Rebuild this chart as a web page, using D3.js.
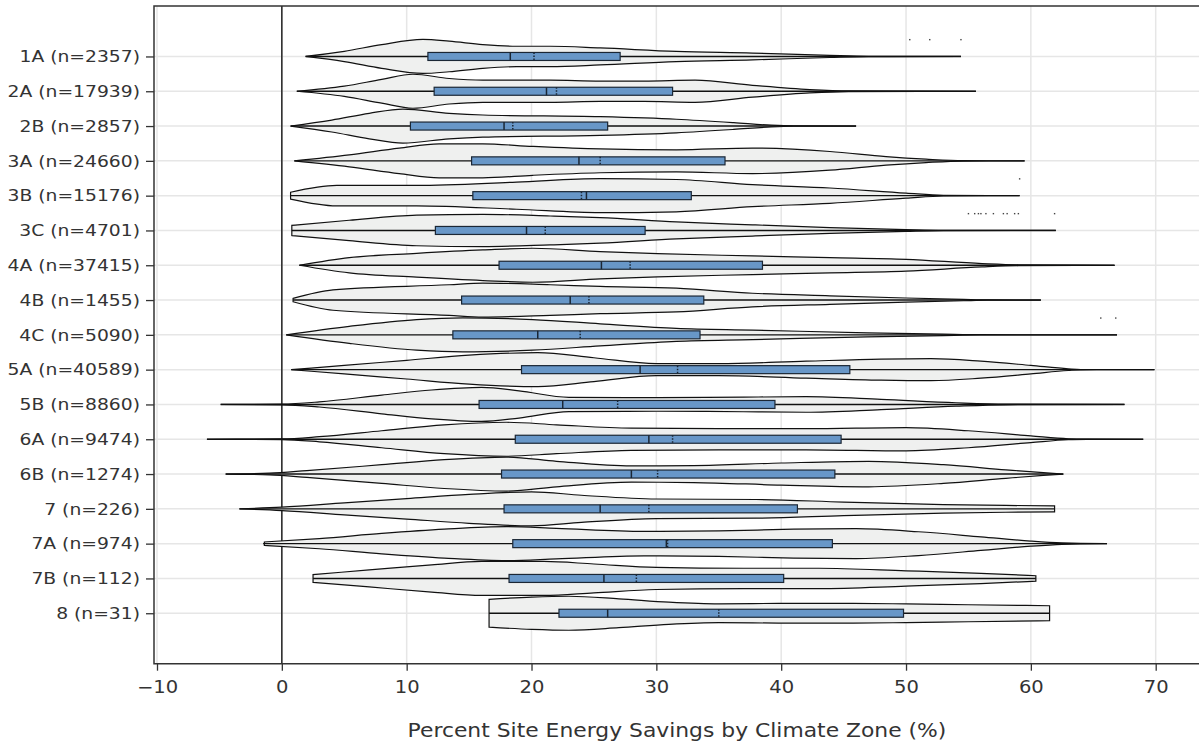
<!DOCTYPE html>
<html>
<head>
<meta charset="utf-8">
<script src="https://cdn.jsdelivr.net/npm/d3@7"></script>
<style>
  body { margin: 0; background: #fff; }
  text { font-family: "DejaVu Sans", Verdana, sans-serif; fill: #333; }
</style>
</head>
<body>
<svg id="vis"></svg>
<script>
const WIDTH = 1199;
const HEIGHT = 744;
const STRETCH = 1.15; // text in the original is a bit wider than DejaVu

// climate zones, top to bottom
const zones = ["1A", "2A", "2B", "3A", "3B", "3C", "4A", "4B", "4C", "5A", "5B", "6A", "6B", "7", "7A", "7B", "8"];
const counts = [2357, 17939, 2857, 24660, 15176, 4701, 37415, 1455, 5090, 40589, 8860, 9474, 1274, 226, 974, 112, 31];

// box stats (percent savings)
const q1 =      [11.7, 12.2, 10.3, 15.2, 15.3, 12.3, 17.4, 14.4, 13.7, 19.2, 15.8, 18.7, 17.6, 17.8, 18.5, 18.2, 22.2];
const medians = [18.3, 21.2, 17.8, 23.8, 24.4, 19.6, 25.6, 23.1, 20.5, 28.7, 22.5, 29.4, 28.0, 25.5, 30.8, 25.8, 26.1];
const means =   [20.2, 22.0, 18.5, 25.5, 24.0, 21.1, 27.9, 24.6, 23.9, 31.7, 26.9, 31.3, 30.1, 29.4, 30.9, 28.4, 35.0];
const q3 =      [27.1, 31.3, 26.1, 35.5, 32.8, 29.1, 38.5, 33.8, 33.5, 45.5, 39.5, 44.8, 44.3, 41.3, 44.1, 40.2, 49.8];
const lowFence =  [1.9, 1.2, 0.7, 1.0, 0.7, 0.8, 1.4, 0.9, 0.35, 0.75, -4.9, -6.0, -4.5, -3.4, -1.5, 2.5, 16.6];
const highFence = [54.4, 55.6, 46.0, 59.5, 59.1, 62.0, 66.7, 60.8, 66.9, 69.9, 67.5, 69.0, 62.6, 61.9, 66.1, 60.4, 61.5];

// violin outlines: [value, relative density]
const densities = [
  [[1.9,0],[5,0.3],[8,0.7],[11.3,1.0],[13.4,0.9],[16.1,0.7],[18.8,0.6],[21.5,0.6],[25.5,0.5],[31.6,0.3],[37.7,0.2],[43.9,0.06],[47,0.01],[54.4,0]],
  [[1.2,0],[5,0.3],[8,0.7],[10.5,1.0],[13.4,0.75],[16.1,0.65],[21.5,0.65],[25.5,0.6],[29,0.6],[33.1,0.65],[37.7,0.35],[42.3,0.1],[45.4,0.02],[55.6,0]],
  [[0.7,0],[4,0.35],[7,0.75],[9.7,1.0],[13.4,0.75],[16.1,0.65],[25.5,0.55],[31.6,0.4],[36.2,0.2],[39.2,0.05],[41,0.01],[46,0]],
  [[1.0,0],[5.4,0.35],[9.4,0.75],[12.6,1.0],[16.1,1.0],[20.1,0.85],[25.5,0.7],[31.6,0.65],[37.7,0.75],[43.9,0.55],[48.4,0.25],[51.6,0.1],[54.6,0.01],[59.5,0]],
  [[0.7,0.2],[4.4,0.6],[10.8,0.6],[18.8,0.8],[25.5,1.0],[31.6,0.95],[37.7,0.65],[43.9,0.45],[50,0.15],[53,0.02],[59.1,0]],
  [[0.8,0.3],[5.4,0.6],[10.8,0.9],[16.1,0.95],[21.5,0.85],[25.5,0.75],[31.6,0.5],[37.7,0.33],[43.9,0.17],[50,0.05],[53,0.01],[62,0]],
  [[1.4,0],[5.4,0.45],[10.8,0.7],[16.1,0.9],[20.1,1.0],[25.5,0.8],[30.1,0.68],[37.7,0.55],[43.9,0.45],[50,0.35],[56.1,0.1],[59,0.03],[66.7,0]],
  [[0.9,0.1],[4.1,0.6],[13.4,0.9],[16.1,1.0],[21.5,0.9],[25.5,0.8],[31.6,0.7],[37.7,0.4],[43.9,0.25],[50,0.12],[54.6,0.04],[56.5,0.01],[60.8,0]],
  [[0.35,0],[5.4,0.5],[10.8,0.9],[14.5,1.0],[20.1,0.9],[25.5,0.65],[31.6,0.38],[37.7,0.28],[46.9,0.12],[53,0.04],[56,0.01],[66.9,0]],
  [[0.75,0],[5,0.25],[10,0.55],[15,0.85],[20.5,1.0],[25,0.7],[30,0.35],[35,0.35],[42,0.5],[48,0.62],[52,0.65],[56,0.5],[60,0.25],[63,0.05],[64,0.01],[69.9,0]],
  [[-4.9,0],[0,0.02],[3,0.15],[8,0.55],[12,0.85],[16,1.0],[19,0.8],[23,0.42],[30,0.4],[37,0.43],[42,0.46],[48,0.3],[54,0.1],[58,0.02],[67.5,0]],
  [[-6,0],[0,0.02],[3,0.15],[8,0.5],[13,0.85],[18,1.0],[22,0.85],[28,0.65],[35,0.62],[42,0.62],[50,0.68],[55,0.5],[60,0.2],[63,0.03],[64.5,0.01],[69,0]],
  [[-4.5,0],[-1,0.05],[2,0.2],[8,0.55],[13,0.85],[18,1.0],[22,0.75],[28,0.48],[33,0.5],[40,0.65],[47,0.75],[53,0.55],[58,0.25],[61,0.08],[62.6,0]],
  [[-3.4,0],[0,0.1],[5,0.35],[10,0.6],[15,0.85],[20,1.0],[24,0.8],[30,0.58],[38,0.55],[45,0.4],[53,0.25],[58,0.2],[61.9,0.18]],
  [[-1.4,0.1],[3,0.3],[8,0.6],[13,0.85],[18,1.0],[22,0.9],[29,0.72],[35,0.75],[41,0.85],[46,0.88],[51,0.7],[56,0.4],[60,0.15],[62.5,0.04],[64,0.01],[66.1,0]],
  [[2.5,0.23],[7,0.5],[12,0.8],[16,1.0],[21,1.0],[25,0.85],[30,0.65],[37,0.6],[43,0.6],[50,0.45],[56,0.3],[60.4,0.16]],
  [[16.6,0.82],[20,0.95],[23,1.0],[27,0.85],[31,0.65],[35,0.55],[40,0.58],[45,0.58],[50,0.55],[55,0.5],[61.5,0.44]]
];

// suspected outliers: [zone, value]
const outliers = [
  ["1A", 50.3], ["1A", 51.9], ["1A", 54.4],
  ["3B", 59.1],
  ["3C", 55.0], ["3C", 55.5], ["3C", 55.8], ["3C", 56.0], ["3C", 56.4], ["3C", 57.0],
  ["3C", 57.8], ["3C", 58.1], ["3C", 58.7], ["3C", 59.0], ["3C", 61.9],
  ["4C", 65.6], ["4C", 66.8]
];

const xTicks = [-10, 0, 10, 20, 30, 40, 50, 60, 70];

const margin = { top: 6, left: 154, bottom: 663.7 };

const SVG = d3.select("#vis").attr("width", WIDTH).attr("height", HEIGHT);

const x = d3.scaleLinear().domain([-10, 70]).range([157, 1155.7]);
const y = d3.scalePoint().domain(zones).range([margin.top, margin.bottom]).padding(1.45);
const w = d3.scaleLinear().domain([0, 1]).range([0, 17]);

// grid
const grid = SVG.append("g").attr("id", "grid");
grid.selectAll(".vgrid")
  .data(xTicks)
  .enter()
  .append("line")
  .attr("x1", (d) => x(d)).attr("x2", (d) => x(d))
  .attr("y1", margin.top).attr("y2", margin.bottom)
  .attr("stroke", "#e6e6e6").attr("stroke-width", 1.5);
grid.selectAll(".hgrid")
  .data(zones)
  .enter()
  .append("line")
  .attr("x1", margin.left).attr("x2", WIDTH)
  .attr("y1", (d) => y(d)).attr("y2", (d) => y(d))
  .attr("stroke", "#e6e6e6").attr("stroke-width", 1.5);

// zero line
SVG.append("line")
  .attr("x1", x(0)).attr("x2", x(0))
  .attr("y1", margin.top).attr("y2", margin.bottom)
  .attr("stroke", "#222").attr("stroke-width", 1.5);

const area = d3.area()
  .x((d) => x(d[0]))
  .y0((d) => -w(d[1]))
  .y1((d) => w(d[1]))
  .curve(d3.curveMonotoneX);

const rows = SVG.selectAll(".zone")
  .data(zones)
  .enter()
  .append("g")
  .classed("zone", true)
  .attr("transform", (d) => `translate(0, ${y(d)})`);

rows.append("path")
  .attr("d", (d, i) => area(densities[i]) + "Z")
  .attr("fill", "#eff0ef")
  .attr("stroke", "#111")
  .attr("stroke-width", 1.2);

// whiskers
rows.append("line")
  .attr("x1", (d, i) => x(lowFence[i])).attr("x2", (d, i) => x(highFence[i]))
  .attr("y1", 0).attr("y2", 0)
  .attr("stroke", "#111").attr("stroke-width", 1.4);

// box
rows.append("rect")
  .attr("x", (d, i) => x(q1[i]))
  .attr("width", (d, i) => x(q3[i]) - x(q1[i]))
  .attr("y", -4).attr("height", 8)
  .attr("fill", "#6897c8")
  .attr("stroke", "#1b2735").attr("stroke-width", 1.2);

rows.append("line")
  .attr("x1", (d, i) => x(medians[i])).attr("x2", (d, i) => x(medians[i]))
  .attr("y1", -4).attr("y2", 4)
  .attr("stroke", "#1b2735").attr("stroke-width", 1.5);

rows.append("line")
  .attr("x1", (d, i) => x(means[i])).attr("x2", (d, i) => x(means[i]))
  .attr("y1", -4).attr("y2", 4)
  .attr("stroke", "#1b2735").attr("stroke-width", 1.5)
  .attr("stroke-dasharray", "1.5,1.5");

// outliers, drawn just above their row
SVG.selectAll(".outlier")
  .data(outliers)
  .enter()
  .append("rect")
  .classed("outlier", true)
  .attr("x", (d) => x(d[1]) - 0.7)
  .attr("y", (d) => y(d[0]) - 17.5)
  .attr("width", 1.4).attr("height", 1.4)
  .attr("fill", "#444");

// frame
SVG.append("path")
  .attr("d", `M${WIDTH + 5},${margin.top}H${margin.left}V${margin.bottom}H${WIDTH + 5}`)
  .attr("fill", "none")
  .attr("stroke", "#333").attr("stroke-width", 1.5);

// axes
const xAxis = SVG.append("g")
  .attr("transform", `translate(0, ${margin.bottom})`)
  .call(d3.axisBottom(x).tickValues(xTicks).tickSize(7).tickPadding(10));
xAxis.select(".domain").remove();
xAxis.selectAll("line").attr("stroke", "#333").attr("stroke-width", 1.3);
xAxis.selectAll("text")
  .style("font-size", "17px")
  .attr("fill", "#333")
  .attr("transform", `scale(${STRETCH},1)`);

const yAxis = SVG.append("g")
  .attr("transform", `translate(${margin.left}, 0)`)
  .call(d3.axisLeft(y).tickSize(8).tickPadding(6)
    .tickFormat((d, i) => `${d} (n=${counts[i]})`));
yAxis.select(".domain").remove();
yAxis.selectAll("line").attr("stroke", "#333").attr("stroke-width", 1.3);
yAxis.selectAll("text")
  .style("font-size", "16.3px")
  .attr("fill", "#333")
  .attr("x", -14 / STRETCH)
  .attr("transform", `scale(${STRETCH},1)`);

SVG.append("g")
  .attr("transform", "translate(677, 737)")
  .append("text")
  .attr("text-anchor", "middle")
  .attr("transform", `scale(${STRETCH},1)`)
  .style("font-size", "19px")
  .text("Percent Site Energy Savings by Climate Zone (%)");
</script>
</body>
</html>
